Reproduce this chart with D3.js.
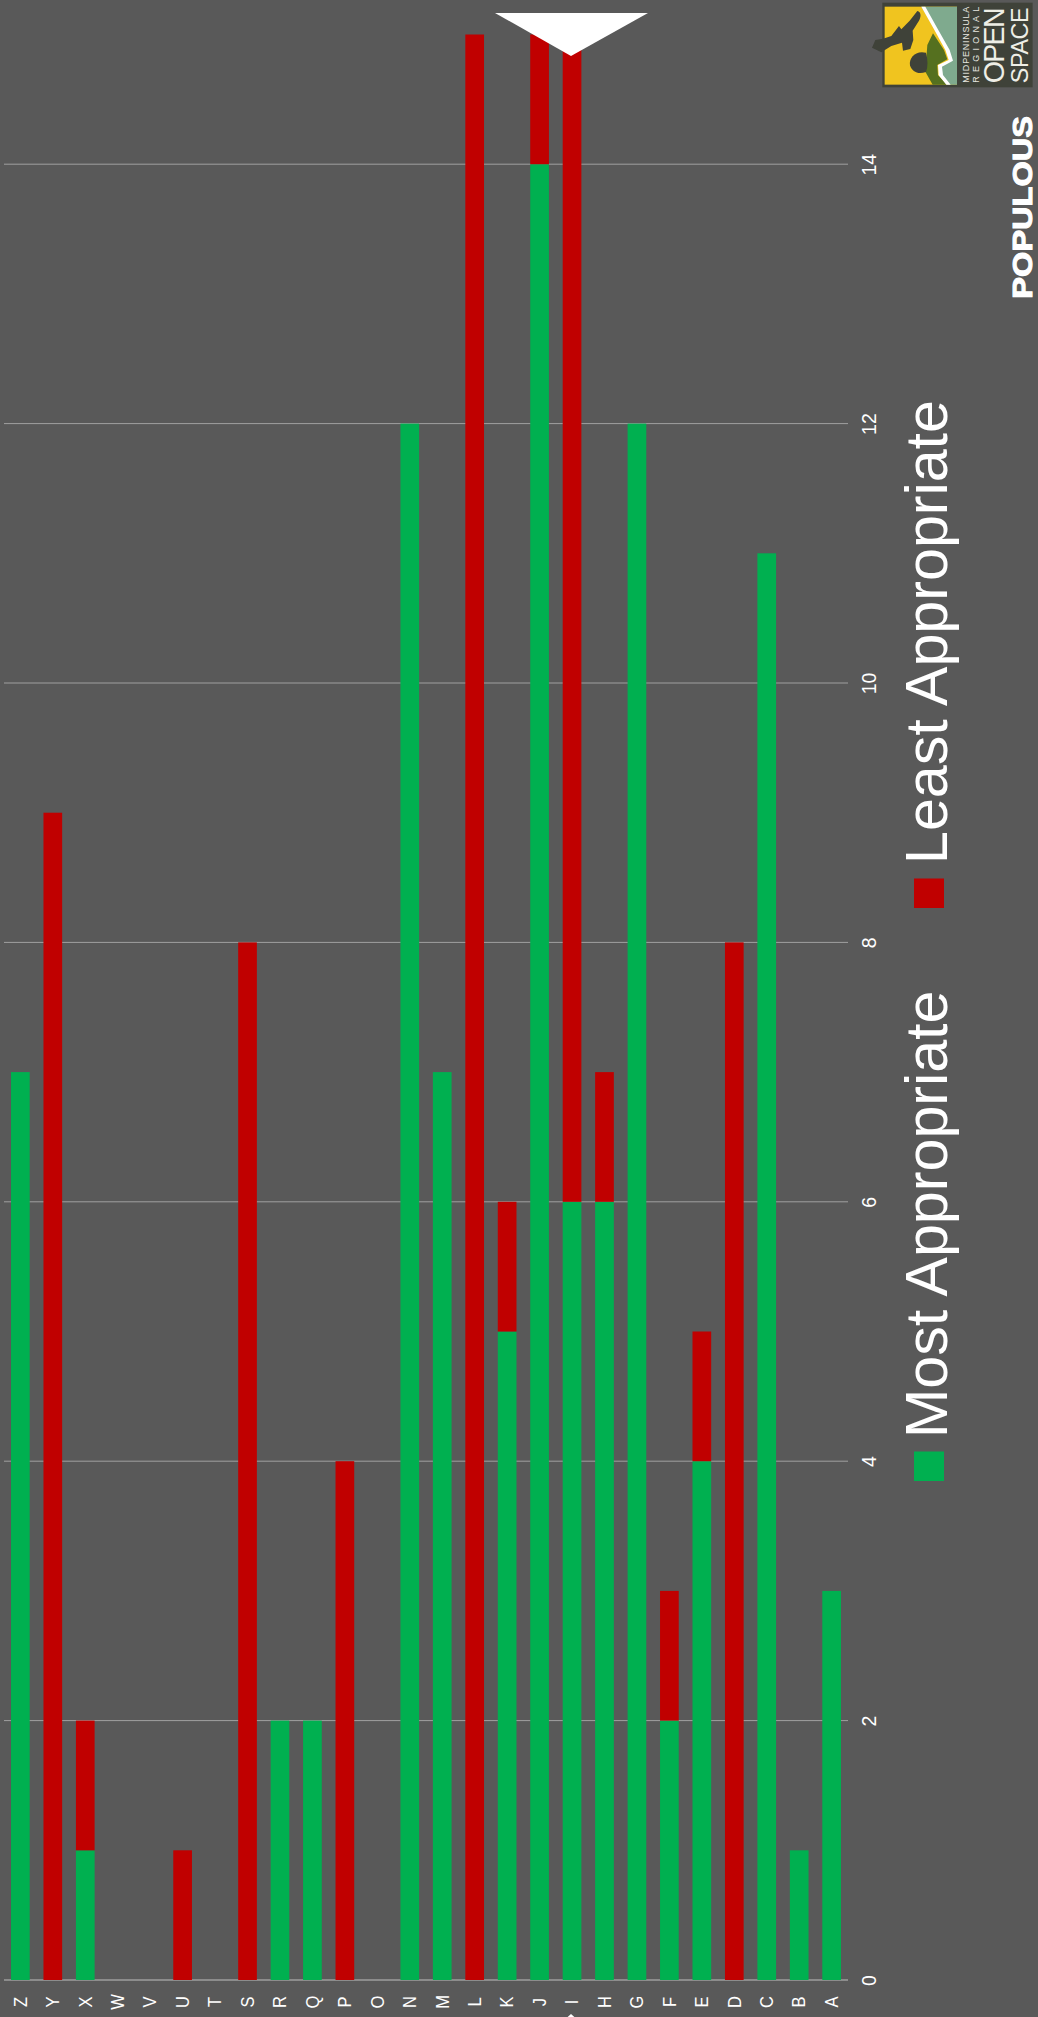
<!DOCTYPE html>
<html><head><meta charset="utf-8">
<script src="https://cdn.jsdelivr.net/npm/d3@7"></script>
<style>html,body{margin:0;padding:0;background:#595959;overflow:hidden}svg{display:block}text{font-family:"Liberation Sans",Arial,sans-serif;fill:#fff}</style>
</head><body><svg id="c" width="1038" height="2017"></svg>
<script>
const categories=["Z","Y","X","W","V","U","T","S","R","Q","P","O","N","M","L","K","J","I","H","G","F","E","D","C","B","A"];
const mostAppropriate=[7,0,1,0,0,0,0,0,2,2,0,0,12,7,0,5,14,6,6,12,2,4,0,11,1,3];
const leastAppropriate=[0,9,1,0,0,1,0,8,0,0,4,0,0,0,15,1,1,9,1,0,1,1,8,0,0,0];
const tickValues=[0,2,4,6,8,10,12,14];
const seriesNames=["Most Appropriate","Least Appropriate"];
const colors=["#00b050","#c00000"];

const svg=d3.select("#c");
const W=1038,H=2017;
svg.append("rect").attr("width",W).attr("height",H).attr("fill","#595959");
const x=d3.scaleBand().domain(categories).range([4,848]).paddingInner(0.424).paddingOuter(0.216);
const y=d3.scaleLinear().domain([0,15]).range([1980,34.5]);

// grid + value axis
const yAxis=d3.axisRight(y).tickValues(tickValues).tickSize(0).tickPadding(0);
const gy=svg.append("g").attr("transform","translate(869,0)").call(yAxis);
gy.select(".domain").remove();
gy.selectAll("text").attr("x",0).attr("dy",0).attr("font-size",19.5).attr("text-anchor","middle")
  .style("font-family",'"Liberation Sans",Arial,sans-serif').attr("fill","#fff")
  .attr("transform","rotate(-90) translate(0,7)");
svg.append("g").selectAll("line").data(tickValues).join("line")
  .attr("x1",4).attr("x2",848).attr("y1",d=>y(d)).attr("y2",d=>y(d))
  .attr("stroke",d=>d===0?"#8c8c8c":"#a0a0a0").attr("stroke-width",d=>d===0?2:1);

// bars
const rows=categories.map((c,i)=>({c,most:mostAppropriate[i],least:leastAppropriate[i]}));
const stack=d3.stack().keys(["most","least"])(rows);
svg.append("g").selectAll("g").data(stack).join("g").attr("fill",(d,i)=>colors[i])
  .selectAll("rect").data(d=>d.filter(e=>e[1]>e[0])).join("rect")
  .attr("x",d=>x(d.data.c)).attr("width",x.bandwidth())
  .attr("y",d=>y(d[1])).attr("height",d=>y(d[0])-y(d[1]));

// category axis
const xAxis=d3.axisBottom(x).tickSize(0).tickPadding(0);
const gx=svg.append("g").attr("transform","translate(-0.5,2002)").call(xAxis);
gx.select(".domain").remove();
gx.selectAll("text").attr("y",0).attr("dy",0).attr("font-size",19).attr("text-anchor","middle")
  .style("font-family",'"Liberation Sans",Arial,sans-serif').attr("fill","#fff")
  .attr("transform","rotate(-90) scale(0.87,1) translate(0,6.8)");

// white pointers
svg.append("path").attr("d","M495,13L648,13L571,56Z").attr("fill","#fff");
svg.append("path").attr("d","M562,2022L580,2022L571,2014Z").attr("fill","#fff");

// legend
const legendY=[1481,908], legendTextY=[1438,864];
seriesNames.forEach((n,i)=>{
  svg.append("rect").attr("x",914).attr("y",legendY[i]-29.5).attr("width",30).attr("height",29.5).attr("fill",colors[i]);
  svg.append("text").attr("transform",`translate(947,${legendTextY[i]}) rotate(-90)`).attr("font-size",59.2).text(n);
});

// logo
const logo=svg.append("g").attr("transform","translate(838,0) scale(0.3333)");
logo.append("rect").attr("x",133).attr("y",8).attr("width",451).attr("height",254).attr("fill","#3f4239");
logo.append("rect").attr("x",140).attr("y",20).attr("width",217).attr("height",234).attr("fill","#f0c41f");
logo.append("path").attr("d","M250,20L357,20L357,254L330,254L305,225L304,198L335,182L325,150L290,85Z").attr("fill","#7faa8e");
logo.append("path").attr("d","M285,100L268,135L262,215L284,254L328,254L300,225L298,195L328,178L318,150Z").attr("fill","#55701f");
logo.append("path").attr("d","M250,20L262,20L298,85L335,150L345,182L312,200L315,225L338,254L325,254L302,226L300,195L332,180L322,150L288,88Z").attr("fill","#fff");
logo.append("path").attr("d","M238,33C250,36 250,50 243,62L224,92L226,120L217,147L195,152L192,128L160,138L130,157L102,143L112,120L135,116L160,108L183,78L190,88L215,62Z").attr("fill","#3f4239");
logo.append("path").attr("d","M264,158C270,180 270,200 264,216C240,225 222,215 216,196C212,175 232,150 264,158Z").attr("fill","#3f4239");
const ltxt=(s,cx,y0,len,fs,w,col)=>logo.append("text").attr("transform",`translate(${cx},${y0}) rotate(-90)`)
  .attr("font-size",fs).attr("font-weight",w).attr("textLength",len).attr("lengthAdjust","spacing").style("fill",col).text(s);
ltxt("MIDPENINSULA",392,248,228,27,"400","#e8e8e0");
ltxt("REGIONAL",423,248,228,27,"400","#e8e8e0");
ltxt("OPEN",497,250,228,86,"400","#eeeee6");
ltxt("SPACE",570,250,228,70,"400","#eeeee6");
logo.append("text").attr("transform","translate(581,896) rotate(-90)").attr("font-size",84).attr("font-weight",700)
  .attr("textLength",548).attr("lengthAdjust","spacingAndGlyphs").attr("stroke","#fff").attr("stroke-width",3).text("POPULOUS");
</script></body></html>
